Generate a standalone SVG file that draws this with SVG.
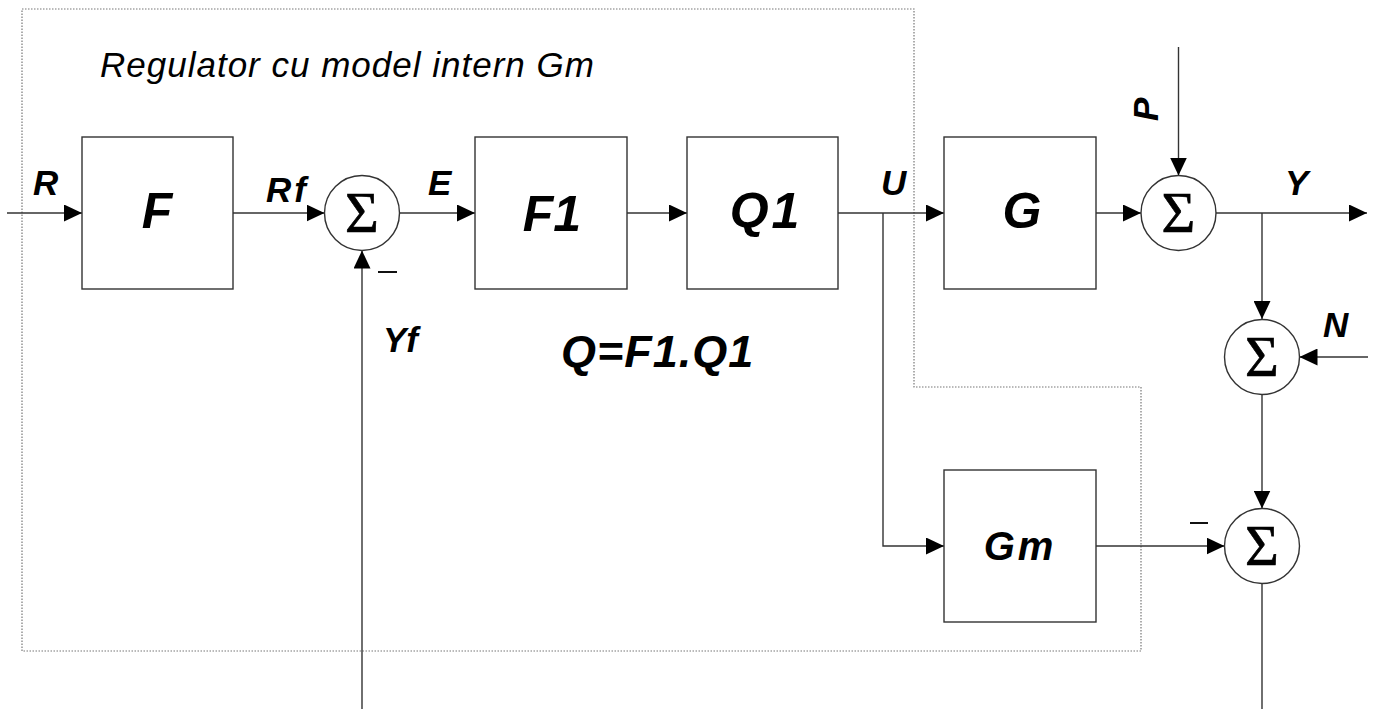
<svg xmlns="http://www.w3.org/2000/svg" width="1380" height="709" viewBox="0 0 1380 709">
<style>
.box{fill:#fff;stroke:#333;stroke-width:1.4}
.sum{fill:#fff;stroke:#333;stroke-width:1.4}
.ln{fill:none;stroke:#333;stroke-width:1.4}
.bd{fill:none;stroke:#777;stroke-width:1.2;stroke-dasharray:1.5 1.5}
.sig{font-family:"Liberation Serif","Times New Roman",serif;font-size:58px;fill:#000;stroke:#000;stroke-width:0.7;text-anchor:middle}
.big{font-family:"Liberation Sans",Arial,sans-serif;font-weight:bold;font-style:italic;font-size:50px;fill:#000;text-anchor:middle}
.lbl{font-family:"Liberation Sans",Arial,sans-serif;font-weight:bold;font-style:italic;font-size:35px;fill:#000}
.ttl{font-family:"Liberation Sans",Arial,sans-serif;font-style:italic;font-size:35px;fill:#000;letter-spacing:1px}
.minus{stroke:#111;stroke-width:2}
</style>
<defs>
<marker id="ah" viewBox="0 0 18 17" refX="18" refY="8.5" markerWidth="18" markerHeight="17" markerUnits="userSpaceOnUse" orient="auto">
<path d="M0,0 L18,8.5 L0,17 Z" fill="#000"/>
</marker>
</defs>
<rect width="1380" height="709" fill="#fff"/>
<path id="boundary" class="bd" d="M22,9 H914 V387 H1141 V651 H22 Z"/>
<text class="ttl" x="100" y="77">Regulator cu model intern Gm</text>
<g id="connectors">
<line class="ln" x1="7" y1="213" x2="82" y2="213" marker-end="url(#ah)"/>
<line class="ln" x1="233" y1="213" x2="324.5" y2="213" marker-end="url(#ah)"/>
<line class="ln" x1="399.5" y1="213" x2="475" y2="213" marker-end="url(#ah)"/>
<line class="ln" x1="627" y1="213" x2="687" y2="213" marker-end="url(#ah)"/>
<line class="ln" x1="838" y1="213" x2="944" y2="213" marker-end="url(#ah)"/>
<polyline class="ln" points="883,213 883,546 944,546" marker-end="url(#ah)"/>
<line class="ln" x1="1096" y1="213" x2="1141" y2="213" marker-end="url(#ah)"/>
<line class="ln" x1="1178.5" y1="47" x2="1178.5" y2="175.5" marker-end="url(#ah)"/>
<line class="ln" x1="1216" y1="213" x2="1367" y2="213" marker-end="url(#ah)"/>
<line class="ln" x1="1262" y1="213" x2="1262" y2="319" marker-end="url(#ah)"/>
<line class="ln" x1="1368" y1="357" x2="1299.5" y2="357" marker-end="url(#ah)"/>
<line class="ln" x1="1262" y1="394.5" x2="1262" y2="508.5" marker-end="url(#ah)"/>
<line class="ln" x1="1096" y1="546" x2="1224.5" y2="546" marker-end="url(#ah)"/>
<line class="ln" x1="1262" y1="583.5" x2="1262" y2="709"/>
<line class="ln" x1="362" y1="709" x2="362" y2="250.5" marker-end="url(#ah)"/>
</g>
<g id="F"><rect class="box" x="82" y="137" width="151" height="152"/><text class="big" x="157" y="228">F</text></g>
<g id="F1"><rect class="box" x="475" y="137" width="152" height="152"/><text class="big" x="552" y="231">F1</text></g>
<g id="Q1"><rect class="box" x="687" y="137" width="151" height="152"/><text class="big" x="766" y="228" letter-spacing="3">Q1</text></g>
<g id="G"><rect class="box" x="944" y="137" width="152" height="152"/><text class="big" x="1022" y="228">G</text></g>
<g id="Gm"><rect class="box" x="944" y="470" width="152" height="152"/><text class="big" x="1020" y="560" style="font-size:40px" letter-spacing="3">Gm</text></g>
<g id="sum1"><circle class="sum" cx="362" cy="213" r="37.5"/><text class="sig" x="362" y="232">Σ</text></g>
<g id="sum2"><circle class="sum" cx="1178.5" cy="213" r="37.5"/><text class="sig" x="1178.5" y="232">Σ</text></g>
<g id="sum3"><circle class="sum" cx="1262" cy="357" r="37.5"/><text class="sig" x="1262" y="376">Σ</text></g>
<g id="sum4"><circle class="sum" cx="1262" cy="546" r="37.5"/><text class="sig" x="1262" y="565">Σ</text></g>
<g id="labels">
<text class="lbl" x="33" y="195">R</text>
<text class="lbl" x="266" y="201.7" letter-spacing="3">Rf</text>
<text class="lbl" x="428" y="195">E</text>
<text class="lbl" x="881" y="195">U</text>
<text class="lbl" x="1285" y="195">Y</text>
<text class="lbl" x="1323" y="337">N</text>
<text class="lbl" x="383" y="352">Yf</text>
<text class="lbl" transform="translate(1158,121) rotate(-90)">P</text>
<text class="lbl" x="561" y="367" style="font-size:45px" letter-spacing="1">Q=F1.Q1</text>
<line class="minus" x1="378" y1="272" x2="397" y2="272"/>
<line class="minus" x1="1190" y1="523" x2="1208" y2="523"/>
</g>
</svg>
